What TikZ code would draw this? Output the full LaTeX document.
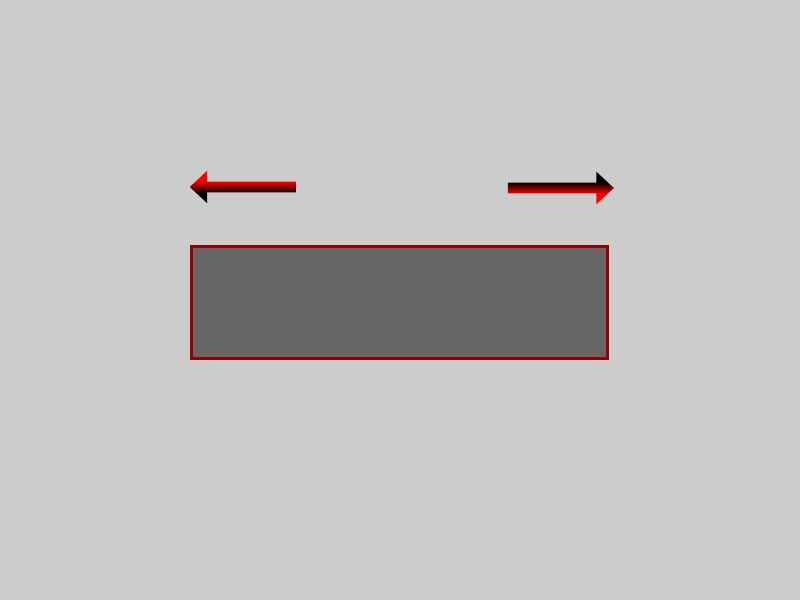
\documentclass[tikz,border=0pt]{standalone}
\usepackage{tikz}
\usetikzlibrary{shapes.arrows, positioning}
\definecolor{canvasgray}{RGB}{204,204,204}
\definecolor{panelgray}{RGB}{102,102,102}
\definecolor{framered}{RGB}{150,0,0}
\pgfdeclareverticalshading{redonblack}{100bp}{color(0bp)=(black); color(41bp)=(black); color(59bp)=(red); color(100bp)=(red)}
\pgfdeclareverticalshading{blackonred}{100bp}{color(0bp)=(red); color(41bp)=(red); color(59bp)=(black); color(100bp)=(black)}

\begin{document}
\begin{tikzpicture}[
    dirarrow/.style={single arrow, draw=none, minimum height=2.65cm, inner sep=0.125cm, single arrow head extend=0.275cm, single arrow tip angle=86, outer sep=0pt},
    panel/.style={rectangle, draw=framered, fill=panelgray, line width=2pt, minimum width=10.4cm, minimum height=2.8cm, outer sep=0pt}
]
    \fill[canvasgray] (0,0) rectangle (20,15);
    \node[dirarrow, shape border rotate=180, shading=redonblack] (leftarrow) at (6.14,10.325) {};
    \node[dirarrow, shading=blackonred] (rightarrow) at (13.95,10.3) {};
    \node[panel] (board) at (9.9875,7.4375) {};
\end{tikzpicture}
\end{document}
